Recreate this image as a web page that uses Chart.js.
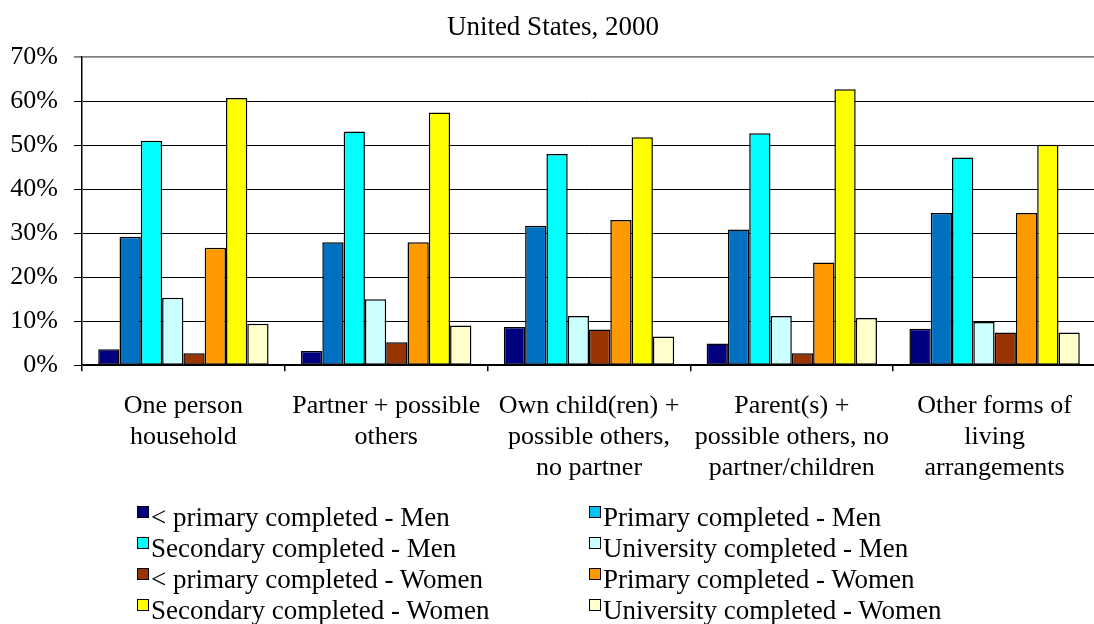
<!DOCTYPE html>
<html>
<head>
<meta charset="utf-8">
<script src="https://cdn.jsdelivr.net/npm/chart.js@4.4.1/dist/chart.umd.min.js"></script>
<style>
  html, body { margin: 0; padding: 0; background: #fff; overflow: hidden; }
  #wrap { position: relative; width: 1094px; height: 624px; overflow: hidden; }
  #chart { position: absolute; left: 0; top: 0; }
  #legend {
    position: absolute; left: 137px; top: 502px;
    display: grid; grid-template-columns: 452px 452px;
    font-family: 'Liberation Serif', 'DejaVu Serif', serif; font-size: 27px; line-height: 31px; color: #000;
  }
  .item { display: flex; align-items: flex-start; height: 31px; white-space: nowrap; }
  .sw { width: 10px; height: 10px; border: 1.5px solid #000; margin: 4px 2px 0 0; flex: none; }
</style>
</head>
<body>
<div id="wrap">
  <canvas id="chart" width="1100" height="513"></canvas>
  <div id="legend"></div>
</div>
<script>
const categories = [
  ['One person', 'household'],
  ['Partner + possible', 'others'],
  ['Own child(ren) +', 'possible others,', 'no partner'],
  ['Parent(s) +', 'possible others, no', 'partner/children'],
  ['Other forms of', 'living', 'arrangements']
];
const yTicks = [0, 10, 20, 30, 40, 50, 60, 70];

const seriesNames = [
  '< primary completed - Men',
  'Primary completed - Men',
  'Secondary completed - Men',
  'University completed - Men',
  '< primary completed - Women',
  'Primary completed - Women',
  'Secondary completed - Women',
  'University completed - Women'
];

// percent values per series, one per category
const lessPrimaryMen   = [3.6, 3.2, 8.7, 4.9, 8.3];
const primaryMen       = [29.2, 27.9, 31.7, 30.8, 34.6];
const secondaryMen     = [51.0, 53.1, 48.0, 52.7, 47.2];
const universityMen    = [15.3, 15.0, 11.2, 11.2, 9.8];
const lessPrimaryWomen = [2.7, 5.2, 8.1, 2.7, 7.4];
const primaryWomen     = [26.7, 27.9, 33.0, 23.3, 34.6];
const secondaryWomen   = [60.7, 57.4, 51.8, 62.7, 50.1];
const universityWomen  = [9.4, 9.0, 6.5, 10.7, 7.4];

const seriesValues = [lessPrimaryMen, primaryMen, secondaryMen, universityMen,
  lessPrimaryWomen, primaryWomen, secondaryWomen, universityWomen];

const barColors = ['#000080', '#0070C0', '#00FFFF', '#CCFFFF', '#993300', '#FF9900', '#FFFF00', '#FFFFCC'];
// the original legend shows a lighter swatch for "Primary completed - Men"
const swatchColors = ['#000080', '#00BFF5', '#00FFFF', '#CCFFFF', '#993300', '#FF9900', '#FFFF00', '#FFFFCC'];

const FONT = "'Liberation Serif', 'DejaVu Serif', serif";

function buildChart() {
  const datasets = seriesNames.map((name, i) => ({
    label: name,
    data: seriesValues[i],
    backgroundColor: barColors[i],
    borderColor: '#000',
    borderWidth: 1.5,
    borderSkipped: false,
    categoryPercentage: 0.84,
    barPercentage: 1.0
  }));

  new Chart(document.getElementById('chart'), {
    type: 'bar',
    data: { labels: categories, datasets },
    options: {
      responsive: false,
      animation: false,
      layout: { padding: { left: 10, right: 4, top: 0, bottom: 9 } },
      plugins: {
        legend: { display: false },
        tooltip: { enabled: false },
        title: {
          display: true,
          text: 'United States, 2000',
          color: '#000',
          font: { family: FONT, size: 27, weight: 'normal', lineHeight: 1.15 },
          padding: { top: 12, bottom: 14 }
        }
      },
      scales: {
        x: {
          offset: true,
          grid: { offset: true, drawOnChartArea: false, drawTicks: true, tickLength: 6, color: '#000', lineWidth: 1.5 },
          border: { color: '#000', width: 1.5 },
          ticks: { color: '#000', font: { family: FONT, size: 26, lineHeight: 1.19 }, maxRotation: 0, autoSkip: false, padding: 20 }
        },
        y: {
          min: 0, max: 70,
          afterBuildTicks: axis => { axis.ticks = yTicks.map(v => ({ value: v })); },
          afterFit: axis => { axis.width = 72; },
          grid: {
            color: ctx => ctx.tick && ctx.tick.value === 70 ? '#808080' : '#000',
            lineWidth: ctx => ctx.tick && ctx.tick.value === 70 ? 1.8 : 1,
            tickLength: 8
          },
          border: { color: '#000', width: 1.5 },
          ticks: { color: '#000', font: { family: FONT, size: 26 }, padding: 16, callback: v => v + '%' }
        }
      }
    }
  });
}

const legendEl = document.getElementById('legend');
seriesNames.forEach((name, i) => {
  const item = document.createElement('div');
  item.className = 'item';
  const sw = document.createElement('span');
  sw.className = 'sw';
  sw.style.background = swatchColors[i];
  const txt = document.createElement('span');
  txt.textContent = name;
  item.appendChild(sw);
  item.appendChild(txt);
  legendEl.appendChild(item);
});

// make sure the serif font is ready before Chart.js measures labels
document.fonts.load("26px 'Liberation Serif'").then(buildChart, buildChart);
</script>
</body>
</html>
